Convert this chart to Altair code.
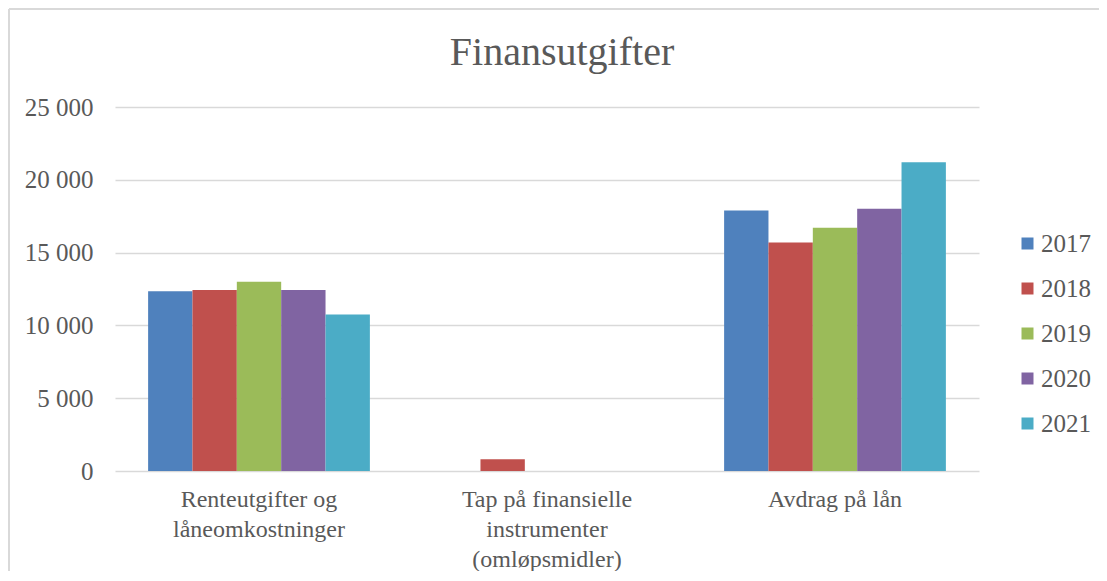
import altair as alt
import pandas as pd

categories = ["Renteutgifter og\nlåneomkostninger",
              "Tap på finansielle\ninstrumenter\n(omløpsmidler)",
              "Avdrag på lån"]
years = ["2017", "2018", "2019", "2020", "2021"]
values = {
    "2017": [12350, 0, 17900],
    "2018": [12430, 800, 15700],
    "2019": [13000, 0, 16700],
    "2020": [12430, 0, 18020],
    "2021": [10750, 0, 21200],
}
colors = ["#4F81BD", "#C0504D", "#9BBB59", "#8064A2", "#4BACC6"]

rows = []
for y in years:
    for c, v in zip(categories, values[y]):
        rows.append({"Kategori": c, "År": y, "Verdi": v})
df = pd.DataFrame(rows)

FONT = "Liberation Serif"
TXT = "#595959"

bars = alt.Chart(df).mark_bar().encode(
    x=alt.X("Kategori:N", sort=categories,
            scale=alt.Scale(paddingInner=0.23, paddingOuter=0.115),
            axis=alt.Axis(title=None, labelAngle=0, domain=False, ticks=False, grid=False,
                          labelExpr="split(datum.label, '\\n')",
                          labelLineHeight=30, labelPadding=16, labelLimit=400,
                          labelFontSize=24, labelColor=TXT, labelFont=FONT,
                          labelBaseline="top")),
    xOffset=alt.XOffset("År:N", sort=years, scale=alt.Scale(paddingInner=0, paddingOuter=0)),
    y=alt.Y("Verdi:Q", scale=alt.Scale(domain=[0, 25000]),
            axis=alt.Axis(title=None, values=[0, 5000, 10000, 15000, 20000, 25000],
                          labelExpr="replace(format(datum.value, ','), ',', ' ')",
                          domain=False, ticks=False, labelPadding=22,
                          labelFontSize=25, labelColor=TXT, labelFont=FONT,
                          gridColor="#d9d9d9", gridWidth=1.6)),
    color=alt.Color("År:N", sort=years, scale=alt.Scale(domain=years, range=colors),
                    legend=alt.Legend(title=None, orient="none", legendX=900, legendY=124,
                                      symbolType="square", symbolSize=144,
                                      symbolStrokeWidth=0, labelFontSize=25,
                                      labelFont=FONT, labelColor=TXT, labelOffset=1,
                                      rowPadding=19)),
)

border_left = alt.Chart(df).mark_rule(color="#d9d9d9", strokeWidth=1.5).encode(
    x=alt.value(-106), y=alt.value(-98), y2=alt.value(470))
border_top = alt.Chart(df).mark_rule(color="#d9d9d9", strokeWidth=1.5).encode(
    x=alt.value(-106), x2=alt.value(990), y=alt.value(-98))

chart = alt.layer(bars, border_left, border_top).properties(
    width=864, height=364,
    background="white",
    title=alt.TitleParams("Finansutgifter", font=FONT, fontSize=40, color=TXT,
                          fontWeight="normal", anchor="middle", frame="group",
                          dx=15, offset=38, dy=103),
    autosize=alt.AutoSizeParams(type="none"),
    padding={"left": 107, "top": 99, "right": 120, "bottom": 100},
).configure_view(stroke="transparent", strokeWidth=0)

chart.save("out.html", embed_options={"renderer": "svg", "actions": False})
